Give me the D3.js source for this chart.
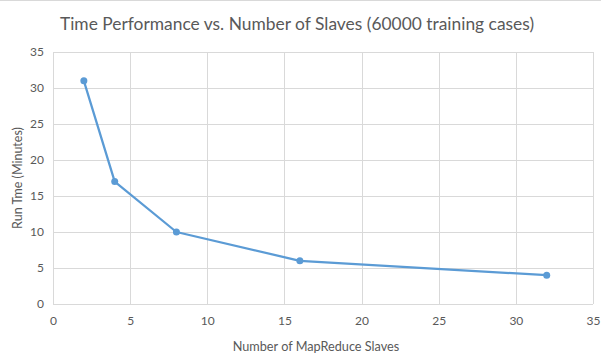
<!DOCTYPE html>
<html>
<head>
<meta charset="utf-8">
<script src="https://cdn.jsdelivr.net/npm/d3@7"></script>
<style>
  body { margin: 0; background: #fff; }
  text { font-family: Lato, "Open Sans", sans-serif; fill: #595959; }
</style>
</head>
<body>
<div id="chart"></div>
<script>
// Data
const slaves = [2, 4, 8, 16, 32];
const runTime = [31, 17, 10, 6, 4];
const xTicks = [0, 5, 10, 15, 20, 25, 30, 35];
const yTicks = [0, 5, 10, 15, 20, 25, 30, 35];

const W = 601, H = 364;
const margin = { top: 52, right: 8, bottom: 60, left: 53 };
const width = W - margin.left - margin.right;
const height = H - margin.top - margin.bottom;

const svg = d3.select("#chart").append("svg")
    .attr("width", W)
    .attr("height", H);

// thin frame line at the top edge
svg.append("line")
    .attr("x1", 0).attr("x2", W)
    .attr("y1", 0.5).attr("y2", 0.5)
    .attr("stroke", "#d9d9d9");

const g = svg.append("g")
    .attr("transform", `translate(${margin.left},${margin.top})`);

const x = d3.scaleLinear().domain([0, 35]).range([0, width]);
const y = d3.scaleLinear().domain([0, 35]).range([height, 0]);

// gridlines
g.selectAll(".hgrid").data(yTicks).enter().append("line")
    .attr("x1", 0).attr("x2", width)
    .attr("y1", d => Math.round(y(d)) + 0.5).attr("y2", d => Math.round(y(d)) + 0.5)
    .attr("stroke", "#d9d9d9");
g.selectAll(".vgrid").data(xTicks).enter().append("line")
    .attr("y1", 0).attr("y2", height)
    .attr("x1", d => Math.round(x(d)) + 0.5).attr("x2", d => Math.round(x(d)) + 0.5)
    .attr("stroke", "#d9d9d9");

// axes (labels only)
const xAxis = g.append("g")
    .attr("transform", `translate(0,${height})`)
    .call(d3.axisBottom(x).tickValues(xTicks).tickSize(0).tickPadding(12));
xAxis.select(".domain").remove();
xAxis.selectAll("text").style("font-size", "12px").attr("fill", "#595959");

const yAxis = g.append("g")
    .call(d3.axisLeft(y).tickValues(yTicks).tickSize(0).tickPadding(9));
yAxis.select(".domain").remove();
yAxis.selectAll("text").style("font-size", "12px").attr("fill", "#595959");

// line + markers
const line = d3.line()
    .x((d, i) => x(slaves[i]))
    .y(d => y(d));

g.append("path")
    .datum(runTime)
    .attr("fill", "none")
    .attr("stroke", "#5b9bd5")
    .attr("stroke-width", 2.25)
    .attr("stroke-linejoin", "round")
    .attr("d", line);

g.selectAll(".dot").data(runTime).enter().append("circle")
    .attr("cx", (d, i) => x(slaves[i]))
    .attr("cy", d => y(d))
    .attr("r", 3.5)
    .attr("fill", "#5b9bd5");

// title
svg.append("text")
    .attr("x", 297)
    .attr("y", 30)
    .attr("text-anchor", "middle")
    .style("font-size", "17.4px")
    .text("Time Performance vs. Number of Slaves (60000 training cases)");

// axis titles
svg.append("text")
    .attr("x", 316)
    .attr("y", 351)
    .attr("text-anchor", "middle")
    .style("font-size", "12.7px")
    .text("Number  of MapReduce Slaves");

svg.append("text")
    .attr("transform", `translate(22,${margin.top + height / 2}) rotate(-90)`)
    .attr("text-anchor", "middle")
    .style("font-size", "12.5px")
    .text("Run Tme  (Minutes)");
</script>
</body>
</html>
